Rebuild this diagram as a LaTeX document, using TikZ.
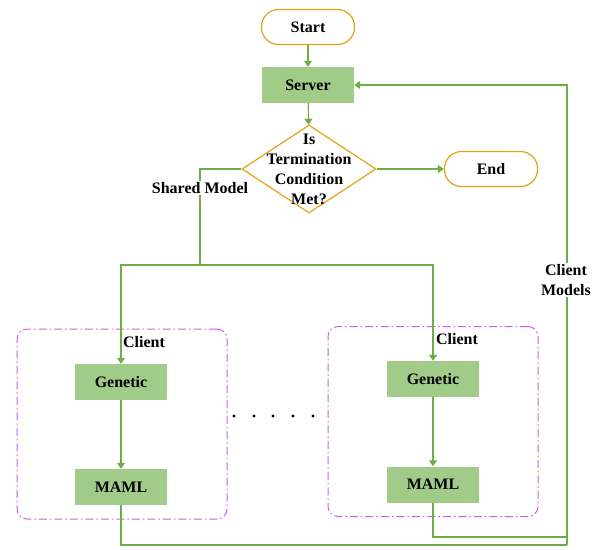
\documentclass[tikz,border=0pt]{standalone}
\usepackage{fontspec}
\setmainfont{Liberation Serif}
\usetikzlibrary{shapes.geometric, arrows.meta}

\definecolor{linegreen}{RGB}{112,173,71}
\definecolor{boxgreen}{RGB}{160,203,136}
\definecolor{termorange}{RGB}{230,162,20}
\definecolor{clientpurple}{RGB}{204,92,240}

\newcommand{\flowfont}{\bfseries\fontsize{16}{20}\selectfont}

\tikzstyle{terminal}=[draw=termorange, line width=1.2pt, rectangle, rounded corners=17pt, minimum width=93pt, minimum height=35pt, font=\flowfont]
\tikzstyle{process}=[fill=boxgreen, rectangle, minimum width=92pt, minimum height=36pt, font=\flowfont]
\tikzstyle{decision}=[draw=termorange, line width=1.2pt, diamond, inner sep=0pt, minimum width=134pt, minimum height=88pt]
\tikzstyle{clientbox}=[draw=clientpurple, line width=1pt, dash pattern=on 8pt off 3pt on 1.5pt off 3pt, rectangle, rounded corners=10pt, minimum width=210pt, minimum height=190pt]
\tikzstyle{lbl}=[font=\flowfont, align=center, inner sep=1pt]
\tikzstyle{line}=[draw=linegreen, line width=1.1pt]
\tikzstyle{arrow}=[line, -{Triangle[width=8pt, length=6pt]}]

\begin{document}
\begin{tikzpicture}[x=1pt, y=-1pt]
      \useasboundingbox (0, 0) rectangle (601, 549);

      \node[clientbox] (box1) at (122, 424) {};
      \node[clientbox] (box2) at (433, 421.5) {};

      \node[terminal] (start) at (308, 27) {Start};
      \node[process] (server) at (308, 85) {Server};
      \node[decision, label={[lbl]center:Is\\Termination\\Condition\\Met?}] (cond) at (309, 169) {};
      \node[terminal] (end) at (491, 169) {End};

      \node[process] (gen1) at (121, 382) {Genetic};
      \node[process] (maml1) at (121, 487) {MAML};
      \node[process] (gen2) at (433, 379) {Genetic};
      \node[process] (maml2) at (433, 484.5) {MAML};

      \node[lbl] (client1) at (144, 342) {Client};
      \node[lbl] (client2) at (457, 339) {Client};

      \coordinate (split) at (200, 265);
      \coordinate (ret1) at (567, 545);
      \coordinate (ret2) at (567, 537);

      \draw[arrow] (start) to (server);
      \draw[arrow] (server) to (cond);
      \draw[arrow] (cond.east) to (end);
      \draw[line] (cond.west) -| (split);
      \draw[arrow] (split) -| (gen1);
      \draw[arrow] (split) -| (gen2);
      \draw[arrow] (gen1) to (maml1);
      \draw[arrow] (gen2) to (maml2);
      \draw[line] (maml1.south) |- (ret1);
      \draw[line] (maml2.south) |- (ret2);
      \draw[arrow] (ret1) |- (server.east);

      \node[lbl, fill=white] (shared) at (200, 188) {Shared Model};
      \node[lbl, fill=white] (models) at (566, 280) {Client\\Models};

      \foreach \x in {234, 254, 273, 293, 313}
        \fill (\x, 416) circle (1.6pt);
    \end{tikzpicture}
\end{document}
